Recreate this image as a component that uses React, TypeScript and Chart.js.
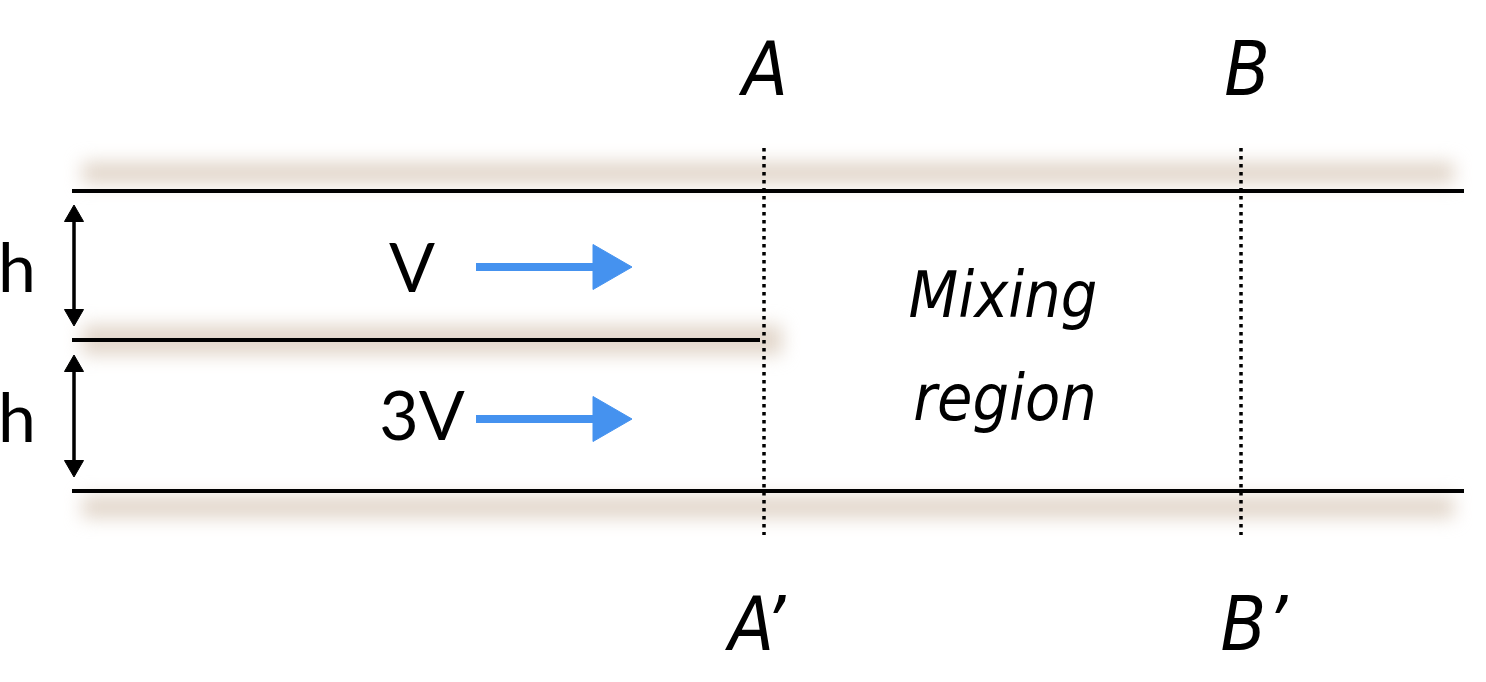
import { useEffect, useRef } from 'react'
import { Chart, registerables } from 'chart.js'

Chart.register(...registerables)

// channel geometry, in page pixels (x right, y down)
const wallX = [72, 1464]
const wallY = [191, 491]
const splitterX = [72, 760]
const splitterY = 340
const sectionX = [764, 1241]
const sectionY = [148, 535]

// shadow bands under the walls
const shadowTopY = 173
const shadowBottomY = 507
const shadowX = [82, 1454]
const splitterShadowX = [82, 782]

// "h" gap arrows
const gapArrowX = 74
const gapArrowTop = [205, 355]
const gapArrowBottom = [326, 477]

// blue flow arrows
const flowArrowX = [476, 604]
const flowArrowTipX = 632
const flowArrowY = [267, 419]

// labels
const plainText = ['h', 'h', 'V', '3V']
const plainX = [-2, -2, 412, 422]
const plainY = [292, 442, 292, 440]
const handText = ['A', 'B', 'A\u2019', 'B\u2019', 'Mixing', 'region']
const handX = [765, 1247, 757, 1254, 1003, 1005]
const handY = [95, 95, 650, 650, 317, 420]

const BLUE = '#4592ef'
const SHADOW = 'rgba(214, 196, 180, 0.7)'

const seg = (x0: number, y0: number, x1: number, y1: number) => [
  { x: x0, y: y0 },
  { x: x1, y: y1 },
]

const labelPlugin = {
  id: 'labels',
  afterDatasetsDraw(chart: Chart) {
    const { ctx } = chart
    const xs = chart.scales.x
    const ys = chart.scales.y
    ctx.save()
    ctx.fillStyle = '#000'
    ctx.textBaseline = 'alphabetic'
    ctx.font = '400 68px Lato, "Open Sans", sans-serif'
    plainText.forEach((t, i) => {
      ctx.textAlign = i < 2 ? 'left' : 'center'
      ctx.fillText(t, xs.getPixelForValue(plainX[i]), ys.getPixelForValue(plainY[i]))
    })
    ctx.textAlign = 'center'
    handText.forEach((t, i) => {
      const big = i >= 4
      ctx.font = big
        ? 'italic 400 64px "Liberation Sans Narrow", "DejaVu Sans Condensed", sans-serif'
        : 'italic 400 74px "Liberation Sans Narrow", "DejaVu Sans Condensed", sans-serif'
      ctx.fillText(t, xs.getPixelForValue(handX[i]), ys.getPixelForValue(handY[i]))
    })
    ctx.restore()
  },
}

const blurPlugin = {
  id: 'blur',
  beforeDatasetDraw(chart: Chart, args: { index: number }) {
    const ds = chart.data.datasets[args.index] as { blur?: number }
    chart.ctx.save()
    if (ds.blur) chart.ctx.filter = `blur(${ds.blur}px)`
  },
  afterDatasetDraw(chart: Chart) {
    chart.ctx.restore()
  },
}

export default function App() {
  const canvasRef = useRef<HTMLCanvasElement>(null)
  const chartRef = useRef<Chart | null>(null)

  useEffect(() => {
    if (!canvasRef.current) return
    if (chartRef.current) chartRef.current.destroy()

    const line = (data: { x: number; y: number }[], color: string, width: number, extra = {}) => ({
      data,
      showLine: true,
      borderColor: color,
      borderWidth: width,
      pointRadius: 0,
      clip: false,
      order: 1,
      ...extra,
    })

    const heads = (data: { x: number; y: number }[], color: string, r: number, rotation: number) => ({
      data,
      showLine: false,
      pointStyle: 'triangle',
      pointRadius: r,
      pointRotation: rotation,
      backgroundColor: color,
      borderColor: color,
      borderWidth: 1,
      clip: false,
      order: 0,
    })

    const datasets: any[] = [
      // shadows
      line(seg(shadowX[0], shadowTopY, shadowX[1], shadowTopY), SHADOW, 22, { blur: 9, order: 5 }),
      line(seg(shadowX[0], shadowBottomY, shadowX[1], shadowBottomY), SHADOW, 22, { blur: 9, order: 5 }),
      line(seg(splitterShadowX[0], splitterY, splitterShadowX[1], splitterY), SHADOW, 30, { blur: 9, order: 5 }),
      // walls
      ...wallY.map((y) => line(seg(wallX[0], y, wallX[1], y), '#000', 4)),
      line(seg(splitterX[0], splitterY, splitterX[1], splitterY), '#000', 4),
      // sections A-A', B-B'
      ...sectionX.map((x) =>
        line(seg(x, sectionY[0], x, sectionY[1]), '#000', 3.5, { borderDash: [3.5, 4.5], borderCapStyle: 'butt' })
      ),
      // gap arrows
      ...gapArrowTop.map((t, i) => line(seg(gapArrowX, t + 12, gapArrowX, gapArrowBottom[i] - 12), '#000', 3.5)),
      heads(gapArrowTop.map((t) => ({ x: gapArrowX, y: t + 11 })), '#000', 11, 0),
      heads(gapArrowBottom.map((b) => ({ x: gapArrowX, y: b - 11 })), '#000', 11, 180),
      // flow arrows
      ...flowArrowY.map((y) => line(seg(flowArrowX[0], y, flowArrowX[1], y), BLUE, 8)),
      heads(flowArrowY.map((y) => ({ x: flowArrowTipX - 26, y })), BLUE, 26, 90),
    ]

    chartRef.current = new Chart(canvasRef.current, {
      type: 'scatter',
      data: { datasets },
      options: {
        animation: false,
        responsive: true,
        maintainAspectRatio: false,
        layout: { padding: 0, autoPadding: false },
        scales: {
          x: { type: 'linear', min: 0, max: 1486, display: false },
          y: { type: 'linear', min: 0, max: 682, reverse: true, display: false },
        },
        plugins: {
          legend: { display: false },
          tooltip: { enabled: false },
        },
        events: [],
      },
      plugins: [blurPlugin, labelPlugin],
    })

    return () => {
      if (chartRef.current) {
        chartRef.current.destroy()
        chartRef.current = null
      }
    }
  }, [])

  return (
    <div style={{ position: 'absolute', left: 0, top: 0, width: 1486, height: 682, background: '#fff' }}>
      <canvas ref={canvasRef} />
    </div>
  )
}
